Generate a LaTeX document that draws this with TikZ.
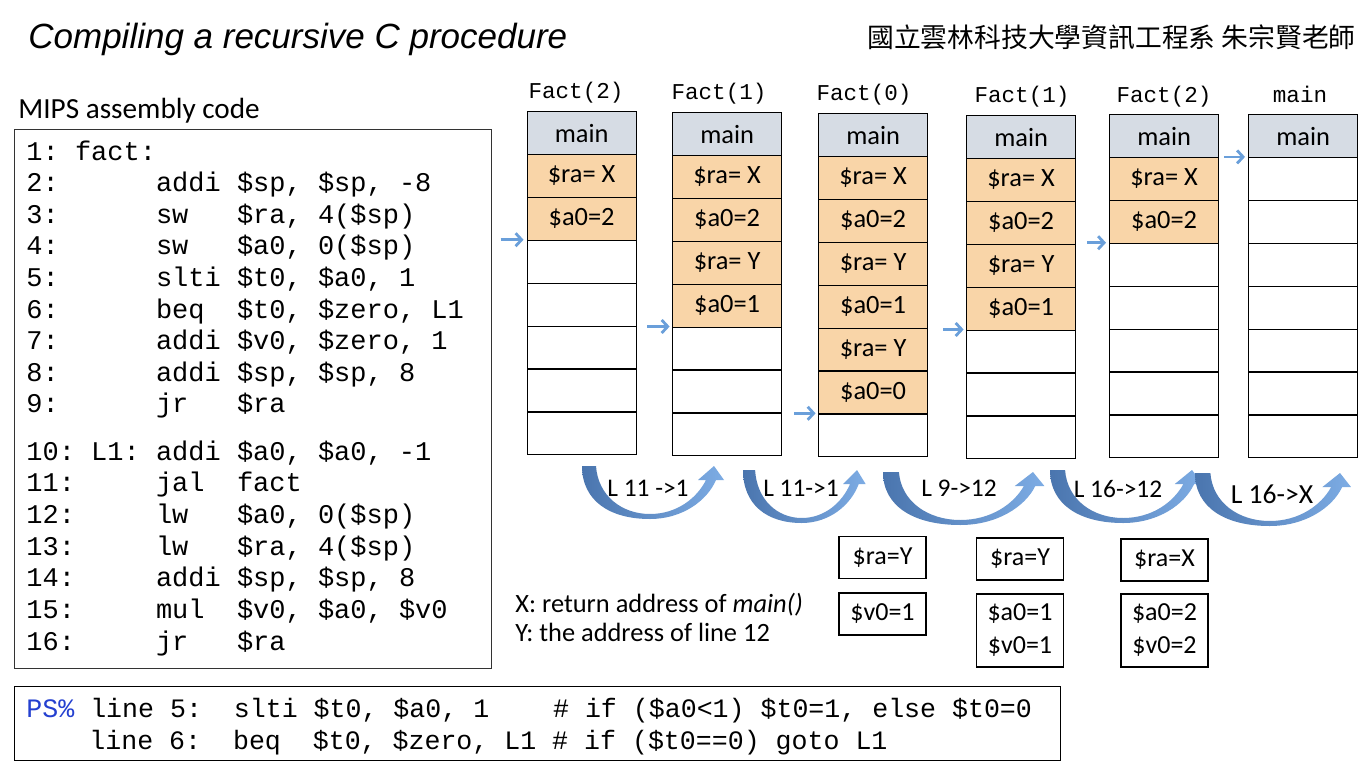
\documentclass[tikz,border=0pt]{standalone}
\usepackage{fontspec}
\setmainfont{Carlito}
\newfontfamily\codefont{Liberation Mono}
\newfontfamily\titlefont{Liberation Sans}
\newfontfamily\cjk{Noto Sans CJK TC}
\usetikzlibrary{arrows.meta}
\definecolor{mainfill}{HTML}{D6DCE4}
\definecolor{orangefill}{HTML}{F9D5A8}
\definecolor{ptrblue}{HTML}{6A9FDA}
\definecolor{arrdark}{HTML}{4A75AE}
\definecolor{arrlight}{HTML}{7DACE4}
\definecolor{psblue}{HTML}{2440D0}
\frenchspacing
\newcommand\stk[6]{\node[cell,fill=#5] (#1r#4) at (#2,{#3+#4*42.9}) {#6};}
\newcommand\curvarr[3]{%
  \begin{scope}[shift={(#1,#2)}, xscale=#3/132]
    \shade[left color=arrdark, right color=arrlight]
      (0,0) .. controls (0,35) and (28,53) .. (68,53)
      .. controls (100,53) and (125,35) .. (134,14)
      -- (142,14) -- (132,0) -- (116,14) -- (124,14)
      .. controls (115,32) and (95,48) .. (68,48)
      .. controls (40,48) and (16,30) .. (14,0) -- cycle;
  \end{scope}}
\begin{document}
\begin{tikzpicture}[x=0.5pt,y=-0.5pt,
  cell/.style={draw=black, line width=0.6pt, minimum width=54.5pt, minimum height=21.45pt,
    inner sep=0pt, anchor=north west, font=\fontsize{13.2}{15}\selectfont},
  codetxt/.style={anchor=base west, inner sep=0pt, font=\codefont\fontsize{13.5}{16}\selectfont},
  pstxt/.style={anchor=base west, inner sep=0pt, font=\codefont\fontsize{13.3}{16}\selectfont},
  stklbl/.style={anchor=base, inner sep=0pt, font=\codefont\fontsize{11.3}{13}\selectfont},
  ptr/.style={draw=ptrblue, line width=1.4pt, -{Straight Barb[length=3pt,width=6.5pt]}},
  lbl/.style={inner sep=0pt, font=\fontsize{12.7}{15}\selectfont},
  regbox/.style={draw=black, line width=0.6pt, minimum width=43.5pt, minimum height=21pt,
    inner sep=0pt, align=center, font=\fontsize{13}{16.5}\selectfont},
  note/.style={anchor=base west, inner sep=0pt, font=\fontsize{13.2}{16}\selectfont}]
\fill[white] (0,0) rectangle (1372,766);
\useasboundingbox (0,0) rectangle (1372,766);

% title
\node[anchor=base west, inner sep=0pt, font=\titlefont\itshape\fontsize{17.5}{20}\selectfont] (title) at (28,48) {Compiling a recursive C procedure};
\node[anchor=east, inner sep=0pt, font=\cjk\fontsize{13.4}{16}\selectfont] (org) at (1356,37) {國立雲林科技大學資訊工程系 朱宗賢老師};

% code
\node[anchor=base west, inner sep=0pt, font=\fontsize{14.6}{17}\selectfont] (mipslbl) at (18,118) {MIPS assembly code};
\node[draw=black!80, line width=0.6pt, anchor=north west, minimum width=238.5pt, minimum height=269.5pt, inner sep=0pt] (codebox) at (14,129) {};
\node[codetxt] (c1) at (26,160) {1:\ fact:};
\node[codetxt] (c2) at (26,191.6) {2:\ \ \ \ \ \ addi \$sp, \$sp, -8};
\node[codetxt] (c3) at (26,223.2) {3:\ \ \ \ \ \ sw\ \ \ \$ra, 4(\$sp)};
\node[codetxt] (c4) at (26,254.8) {4:\ \ \ \ \ \ sw\ \ \ \$a0, 0(\$sp)};
\node[codetxt] (c5) at (26,286.4) {5:\ \ \ \ \ \ slti \$t0, \$a0, 1};
\node[codetxt] (c6) at (26,318) {6:\ \ \ \ \ \ beq\ \ \$t0, \$zero, L1};
\node[codetxt] (c7) at (26,349.6) {7:\ \ \ \ \ \ addi \$v0, \$zero, 1};
\node[codetxt] (c8) at (26,381.2) {8:\ \ \ \ \ \ addi \$sp, \$sp, 8};
\node[codetxt] (c9) at (26,412.8) {9:\ \ \ \ \ \ jr\ \ \ \$ra};
\node[codetxt] (c10) at (26,460) {10: L1: addi \$a0, \$a0, -1};
\node[codetxt] (c11) at (26,491.7) {11:\ \ \ \ \ jal\ \ fact};
\node[codetxt] (c12) at (26,523.4) {12:\ \ \ \ \ lw\ \ \ \$a0, 0(\$sp)};
\node[codetxt] (c13) at (26,555.1) {13:\ \ \ \ \ lw\ \ \ \$ra, 4(\$sp)};
\node[codetxt] (c14) at (26,586.8) {14:\ \ \ \ \ addi \$sp, \$sp, 8};
\node[codetxt] (c15) at (26,618.5) {15:\ \ \ \ \ mul\ \ \$v0, \$a0, \$v0};
\node[codetxt] (c16) at (26,650.2) {16:\ \ \ \ \ jr\ \ \ \$ra};

% PS box
\node[draw=black, line width=0.6pt, anchor=north west, minimum width=523pt, minimum height=37pt, inner sep=0pt] (psbox) at (14,686) {};
\node[pstxt] (ps1) at (26,717) {\textcolor{psblue}{PS\%} line 5:\ \ slti \$t0, \$a0, 1\ \ \ \ \# if (\$a0<1) \$t0=1, else \$t0=0};
\node[pstxt] (ps2) at (89,749) {line 6:\ \ beq\ \ \$t0, \$zero, L1 \# if (\$t0==0) goto L1};

% stack labels
\node[stklbl] (h1) at (576,98) {Fact(2)};
\node[stklbl] (h2) at (719,99) {Fact(1)};
\node[stklbl] (h3) at (864,100) {Fact(0)};
\node[stklbl] (h4) at (1022,102) {Fact(1)};
\node[stklbl] (h5) at (1164,102) {Fact(2)};
\node[stklbl] (h6) at (1300,102) {main};

% stack 1
\stk{s1}{526.5}{111}{0}{mainfill}{main}
\stk{s1}{526.5}{111}{1}{orangefill}{\$ra= X}
\stk{s1}{526.5}{111}{2}{orangefill}{\$a0=2}
\foreach \r in {3,...,7} {\stk{s1}{526.5}{111}{\r}{white}{}}
% stack 2
\stk{s2}{672}{112}{0}{mainfill}{main}
\stk{s2}{672}{112}{1}{orangefill}{\$ra= X}
\stk{s2}{672}{112}{2}{orangefill}{\$a0=2}
\stk{s2}{672}{112}{3}{orangefill}{\$ra= Y}
\stk{s2}{672}{112}{4}{orangefill}{\$a0=1}
\foreach \r in {5,...,7} {\stk{s2}{672}{112}{\r}{white}{}}
% stack 3
\stk{s3}{818}{113}{0}{mainfill}{main}
\stk{s3}{818}{113}{1}{orangefill}{\$ra= X}
\stk{s3}{818}{113}{2}{orangefill}{\$a0=2}
\stk{s3}{818}{113}{3}{orangefill}{\$ra= Y}
\stk{s3}{818}{113}{4}{orangefill}{\$a0=1}
\stk{s3}{818}{113}{5}{orangefill}{\$ra= Y}
\stk{s3}{818}{113}{6}{orangefill}{\$a0=0}
\stk{s3}{818}{113}{7}{white}{}
% stack 4
\stk{s4}{966}{115}{0}{mainfill}{main}
\stk{s4}{966}{115}{1}{orangefill}{\$ra= X}
\stk{s4}{966}{115}{2}{orangefill}{\$a0=2}
\stk{s4}{966}{115}{3}{orangefill}{\$ra= Y}
\stk{s4}{966}{115}{4}{orangefill}{\$a0=1}
\foreach \r in {5,...,7} {\stk{s4}{966}{115}{\r}{white}{}}
% stack 5
\stk{s5}{1109}{114}{0}{mainfill}{main}
\stk{s5}{1109}{114}{1}{orangefill}{\$ra= X}
\stk{s5}{1109}{114}{2}{orangefill}{\$a0=2}
\foreach \r in {3,...,7} {\stk{s5}{1109}{114}{\r}{white}{}}
% stack 6
\stk{s6}{1248}{114}{0}{mainfill}{main}
\foreach \r in {1,...,7} {\stk{s6}{1248}{114}{\r}{white}{}}

% stack pointers
\draw[ptr] ([xshift=-13pt]s1r3.north west) -- ([xshift=-1.5pt]s1r3.north west);
\draw[ptr] ([xshift=-12.5pt]s2r5.north west) -- ([xshift=-1.2pt]s2r5.north west);
\draw[ptr] ([xshift=-12pt]s3r7.north west) -- ([xshift=-1.2pt]s3r7.north west);
\draw[ptr] ([xshift=-11.5pt]s4r5.north west) -- ([xshift=-1.2pt]s4r5.north west);
\draw[ptr] ([xshift=-11pt]s5r3.north west) -- ([xshift=-1.5pt]s5r3.north west);
\draw[ptr] ([xshift=-12pt]s6r1.north west) -- ([xshift=-1.5pt]s6r1.north west);

% curved transition arrows
\curvarr{582}{466}{132}
\curvarr{743}{470}{114}
\curvarr{883}{472}{150}
\curvarr{1050}{470}{142}
\curvarr{1195}{473}{145}
\node[lbl] (t1) at (648,488) {L 11 ->1};
\node[lbl] (t2) at (801,488) {L 11->1};
\node[lbl] (t3) at (959,488) {L 9->12};
\node[lbl] (t4) at (1118,489) {L 16->12};
\node[lbl, font=\fontsize{13.8}{16}\selectfont] (t5) at (1272,494) {L 16->X};

% register boxes
\node[regbox] (b1) at (882.5,557.5) {\$ra=Y};
\node[regbox] (b2) at (882.5,614) {\$v0=1};
\node[regbox] (b3) at (1020,559) {\$ra=Y};
\node[regbox, minimum height=36.5pt] (b4) at (1020,630.5) {\$a0=1\\\$v0=1};
\node[regbox] (b5) at (1164.5,560) {\$ra=X};
\node[regbox, minimum height=36.5pt] (b6) at (1164.5,630.5) {\$a0=2\\\$v0=2};

% notes
\node[note] (n1) at (515,612) {X: return address of \textit{main()}};
\node[note] (n2) at (515,641) {Y: the address of line 12};
\end{tikzpicture}
\end{document}
